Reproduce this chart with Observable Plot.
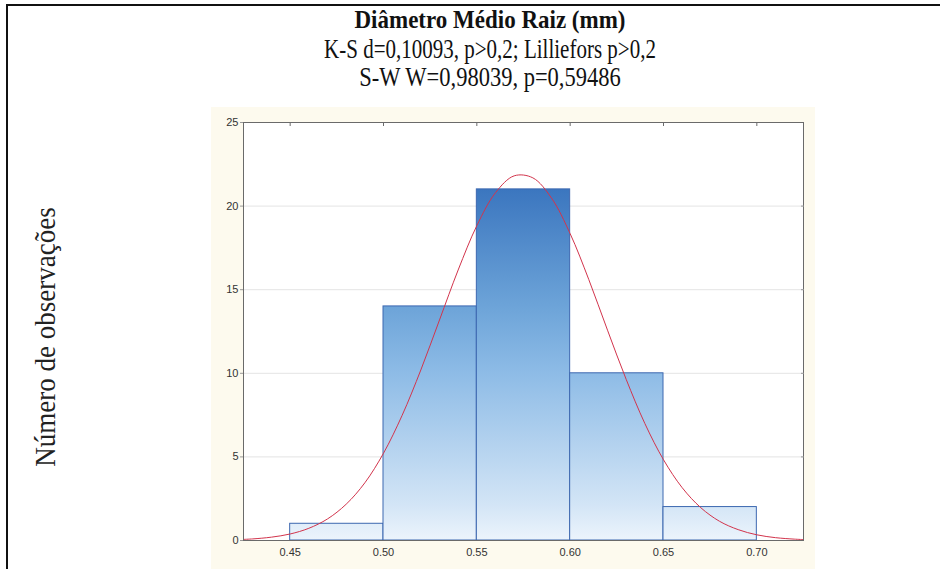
<!DOCTYPE html>
<html>
<head>
<meta charset="utf-8">
<script src="https://cdn.jsdelivr.net/npm/d3@7"></script>
<script src="https://cdn.jsdelivr.net/npm/@observablehq/plot@0.6"></script>
<style>
  html, body { margin: 0; padding: 0; background: #ffffff; }
  #page { position: relative; width: 940px; height: 569px; overflow: hidden; background: #ffffff; }
  #border { position: absolute; left: 6px; top: 4px; width: 1000px; height: 700px; border: 2px solid #111; box-sizing: border-box; }
  .tl { position: absolute; left: 0; width: 980px; text-align: center; font-family: "Liberation Serif", "Times New Roman", serif; font-size: 21px; line-height: 30px; color: #111; white-space: nowrap; transform-origin: 50% 50%; }
  #ylab { position: absolute; left: 46px; top: 337px; transform: translate(-50%, -50%) rotate(-90deg) scaleY(1.1); font-family: "Liberation Serif", "Times New Roman", serif; font-size: 27px; color: #222; white-space: nowrap; }
  #chart { position: absolute; left: 211px; top: 107px; }
</style>
</head>
<body>
<div id="page">
  <div id="border"></div>
  <div id="t1" class="tl" style="top:5px;font-weight:bold;font-size:23px;transform:scaleY(1.12);"></div>
  <div id="t2" class="tl" style="top:34px;font-size:21px;transform:scaleY(1.27);"></div>
  <div id="t3" class="tl" style="top:63px;font-size:22.5px;transform:scaleY(1.2);"></div>
  <div id="ylab"></div>
  <div id="chart"></div>
</div>
<script>
// ---- data ----
const titleText = "Diâmetro Médio Raiz (mm)";
const subtitle1 = "K-S d=0,10093, p>0,2; Lilliefors p>0,2";
const subtitle2 = "S-W W=0,98039, p=0,59486";
const yLabel = "Número de observações";

const binStarts = [0.45, 0.50, 0.55, 0.60, 0.65];
const binEnds   = [0.50, 0.55, 0.60, 0.65, 0.70];
const counts    = [1, 14, 21, 10, 2];

// fitted normal curve
const curveX = [0.425, 0.43, 0.44, 0.45, 0.46, 0.47, 0.48, 0.49, 0.50, 0.51, 0.52, 0.53, 0.54, 0.55, 0.56, 0.57, 0.58, 0.59, 0.60, 0.61, 0.62, 0.63, 0.64, 0.65, 0.66, 0.67, 0.68, 0.69, 0.70, 0.71, 0.72, 0.725];
const curveY = [0.066, 0.096, 0.20, 0.39, 0.73, 1.29, 2.17, 3.45, 5.22, 7.49, 10.20, 13.19, 16.18, 18.83, 20.80, 21.81, 21.69, 20.48, 18.35, 15.60, 12.58, 9.64, 7.00, 4.83, 3.16, 1.96, 1.15, 0.65, 0.34, 0.17, 0.083, 0.056];

const xTicks = [0.45, 0.50, 0.55, 0.60, 0.65, 0.70];
const yTicks = [0, 5, 10, 15, 20, 25];
const gridTicks = [5, 10, 15, 20];

// ---- text ----
document.getElementById("t1").textContent = titleText;
document.getElementById("t2").textContent = subtitle1;
document.getElementById("t3").textContent = subtitle2;
document.getElementById("ylab").textContent = yLabel;

const bars = binStarts.map((s, i) => ({x1: s, x2: binEnds[i], count: counts[i]}));
const curve = curveX.map((x, i) => ({x, y: curveY[i]}));

const plot = Plot.plot({
  width: 604,
  height: 462,
  marginLeft: 32,
  marginRight: 12,
  marginTop: 15,
  marginBottom: 29,
  style: {background: "#fdfaee", fontFamily: "'Liberation Sans', Arial, sans-serif", fontSize: "11px", color: "#333"},
  x: {domain: [0.425, 0.725], label: null},
  y: {domain: [0, 25], label: null},
  marks: [
    Plot.frame({fill: "#ffffff", stroke: null}),
    Plot.gridY(gridTicks, {stroke: "#e4e4e4", strokeOpacity: 1}),
    Plot.rectY(bars, {x1: "x1", x2: "x2", y: "count", fill: "url(#barGrad)", stroke: "#3d68b0", strokeWidth: 1}),
    Plot.line(curve, {x: "x", y: "y", stroke: "#d2344c", strokeWidth: 1, curve: "catmull-rom", clip: true}),
    Plot.frame({stroke: "#6a6a6a", strokeWidth: 1}),
    Plot.axisX(xTicks, {anchor: "bottom", tickSize: 0, tickPadding: 8, tickFormat: d => d.toFixed(2), label: null}),
    Plot.axisX(xTicks, {anchor: "top", tickSize: -3, tickFormat: () => "", label: null, stroke: "#6a6a6a"}),
    Plot.axisY(yTicks, {anchor: "left", tickSize: 3, tickPadding: 2, tickFormat: d => String(d), label: null, stroke: "#999"}),
    Plot.axisY(gridTicks, {anchor: "right", tickSize: -3, tickFormat: () => "", label: null, stroke: "#999"})
  ]
});

// gradient fill tied to the y scale (absolute heights)
const ys = plot.scale("y");
const svgNS = "http://www.w3.org/2000/svg";
const defs = document.createElementNS(svgNS, "defs");
const grad = document.createElementNS(svgNS, "linearGradient");
grad.setAttribute("id", "barGrad");
grad.setAttribute("gradientUnits", "userSpaceOnUse");
grad.setAttribute("x1", "0"); grad.setAttribute("x2", "0");
grad.setAttribute("y1", String(ys.apply(0)));
grad.setAttribute("y2", String(ys.apply(21)));
[[0, "#ecf4fc"], [0.1, "#d3e5f6"], [0.48, "#8dbbe6"], [0.67, "#6ca3d8"], [1, "#3b76bf"]].forEach(([o, c]) => {
  const st = document.createElementNS(svgNS, "stop");
  st.setAttribute("offset", String(o));
  st.setAttribute("stop-color", c);
  grad.appendChild(st);
});
defs.appendChild(grad);
plot.insertBefore(defs, plot.firstChild);

document.getElementById("chart").appendChild(plot);
</script>
</body>
</html>
